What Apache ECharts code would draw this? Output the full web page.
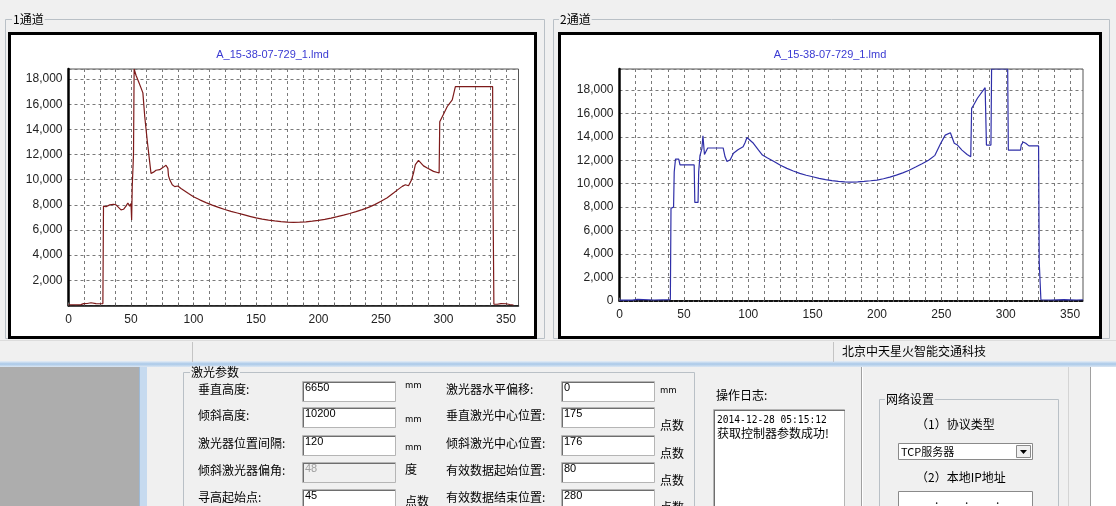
<!DOCTYPE html>
<html><head><meta charset="utf-8">
<script src="https://cdn.jsdelivr.net/npm/echarts@6/dist/echarts.min.js"></script>
<style>html,body{margin:0;padding:0;background:#f0f0f0;overflow:hidden}#c{width:1116px;height:506px}</style>
</head><body><div id="c"></div>
<script>
// ---------- data ----------
const chartTitle = 'A_15-38-07-729_1.lmd';
const panelTitles = ['1通道', '2通道'];
const ch1X = [0,5,10,12,15,18,19,22,25,27.5,28,30,33,36,38,40,42,44,46,47.5,49,50,50.5,51,52,52.5,54,56,58,59.5,61,63,64.5,66,68,70,73,76,78,79.5,80,81,83,85,87.5,90,93,96,100,105,110,115,120,125,130,135,140,145,150,155,160,165,170,175,180,185,190,195,200,205,210,215,220,225,230,235,240,245,250,255,260,264,267,269.5,272,274.5,276,277.5,280,281.5,284,287,292,296.5,297,300,303,307,309.5,339.3,339.6,340.3,343,346,350,353,356];
const ch1Y = [60,60,70,150,160,220,160,150,140,150,7900,7850,8000,8050,8000,7800,7600,7650,7900,8150,7900,8100,6800,9500,12000,18800,18300,17800,17300,16900,15000,13100,11800,10500,10600,10750,10800,11000,11150,10900,10300,10000,9600,9450,9500,9300,9100,8900,8650,8400,8180,7980,7800,7630,7480,7350,7220,7090,6960,6860,6780,6720,6670,6630,6610,6620,6650,6700,6770,6850,6950,7060,7180,7310,7460,7620,7800,8020,8280,8560,8940,9250,9470,9600,9520,10000,10530,11200,11540,11460,11100,10930,10660,10530,14600,15200,15820,16350,17400,17400,8800,100,100,150,140,80,40];
const ch2X = [0,10,14,15,27,28,39.5,40,42,42.5,43.5,46,47,58,58.5,61,61.5,62.5,64,64.8,66,68.5,80.5,82,83.5,86,88.5,92,96,97.5,99,104,108,111,115,120,125,130,135,140,145,150,155,160,165,170,175,180,185,190,195,200,205,210,215,220,225,230,235,240,245,249.5,253,257,260,262.5,266,270,272.8,273.5,275,278,284,285,288.5,289,301.5,302,311.5,312,313.5,315.5,318,325.5,326,327.3,335,345,355,360];
const ch2Y = [50,50,120,50,60,110,100,7900,8000,11000,12100,12100,11600,11600,8400,8400,11000,12400,13000,14100,12500,13050,13050,12300,11900,12050,12600,12900,13150,13500,13950,13450,12870,12450,12200,11900,11580,11310,11080,10880,10720,10590,10460,10350,10260,10200,10160,10140,10160,10200,10250,10310,10420,10560,10730,10920,11150,11420,11700,12000,12420,13450,14150,14350,13450,13300,12870,12500,12300,16430,16700,17300,18200,13300,13300,19800,19800,12870,12870,13300,13560,13450,13230,13230,3300,80,60,90,60,80];
const xMinorTicks = [0,12.5,25,37.5,50,62.5,75,87.5,100,112.5,125,137.5,150,162.5,175,187.5,200,212.5,225,237.5,250,262.5,275,287.5,300,312.5,325,337.5,350];
const statusText = '北京中天星火智能交通科技';
const leftLabels = ['垂直高度:', '倾斜高度:', '激光器位置间隔:', '倾斜激光器偏角:', '寻高起始点:'];
const leftValues = ['6650', '10200', '120', '48', '45'];
const leftUnits = ['mm', 'mm', 'mm', '度', '点数'];
const rightLabels = ['激光器水平偏移:', '垂直激光中心位置:', '倾斜激光中心位置:', '有效数据起始位置:', '有效数据结束位置:'];
const rightValues = ['0', '175', '176', '80', '280'];
const rightUnits = ['mm', '点数', '点数', '点数', '点数'];
const logLines = ['2014-12-28 05:15:12', '获取控制器参数成功!'];

// ---------- helpers ----------
const CJK = '"Noto Sans CJK SC", sans-serif';
const SANS = '"Liberation Sans", Arial, sans-serif';
const G = [];
function rect(x, y, w, h, fill, stroke, lw, z) {
  G.push({type: 'rect', z: z, silent: true, shape: {x, y, width: w, height: h},
    style: {fill: fill || 'none', stroke: stroke || null, lineWidth: lw || 1}});
}
function line(x1, y1, x2, y2, color, lw, z) {
  G.push({type: 'line', z: z, silent: true, shape: {x1, y1, x2, y2}, style: {stroke: color, lineWidth: lw || 1}});
}
function text(x, y, s, opt) {
  opt = opt || {};
  G.push({type: 'text', z: 5, silent: true, x, y,
    style: {text: s, fill: opt.color || '#000', font: (opt.size || 12) + 'px ' + (opt.family || CJK),
      textAlign: opt.align || 'left', textVerticalAlign: 'middle', backgroundColor: opt.bg || null, padding: opt.pad || 0}});
}
function inputBox(x, y, w, h, val, disabled) {
  rect(x + 0.5, y + 0.5, w, h, disabled ? '#f0f0f0' : '#ffffff', '#b5b5b5', 1, -3);
  line(x + 1, y + 1.5, x + w, y + 1.5, '#6e6e6e', 1, -2);
  line(x + 1.5, y + 1, x + 1.5, y + h, '#6e6e6e', 1, -2);
  text(x + 3, y + 7, val, {size: 11, family: SANS, color: disabled ? '#a0a0a0' : '#000'});
}
function groupBox(x, y, w, h, label, lx) {
  rect(x + 0.5, y + 0.5, w, h, null, '#b9c0c6', 1, -4);
  text(lx, y + 0.5, label, {size: 12, bg: '#f0f0f0', pad: [0, 1]});
}

// backgrounds (lowest)
rect(0, 340, 1116, 22, '#f0f0f0', null, 0, -9);
rect(0, 367, 139, 139, '#adadad', null, 0, -9);
rect(139, 367, 8, 139, '#c6daef', null, 0, -9);
rect(147, 367, 943, 139, '#f0f0f0', null, 0, -9);
rect(1090, 367, 26, 139, '#ffffff', null, 0, -9);
G.push({type: 'rect', z: -8, silent: true, shape: {x: 0, y: 361, width: 1116, height: 6},
  style: {fill: new echarts.graphic.LinearGradient(0, 0, 0, 1, [{offset: 0, color: '#e6eef7'}, {offset: 0.5, color: '#a9c8e8'}, {offset: 1, color: '#dbe7f3'}])}});

// top panels
groupBox(5, 19, 539, 319, panelTitles[0], 12);
groupBox(553, 19, 556, 319, panelTitles[1], 559);
// chart frames
rect(9.5, 33.5, 526, 304, '#ffffff', '#000', 3, -3);
rect(559.5, 33.5, 541, 304, '#ffffff', '#000', 3, -3);
text(272.5, 55, chartTitle, {size: 11, family: SANS, color: '#3a3ad2', align: 'center'});
text(830, 55, chartTitle, {size: 11, family: SANS, color: '#3a3ad2', align: 'center'});
// status bar
line(0, 340.5, 1116, 340.5, '#dcdcdc', 1, -2);
line(192.5, 342, 192.5, 362, '#c4c4c4', 1, -2);
line(833.5, 342, 833.5, 362, '#c4c4c4', 1, -2);
text(842, 351, statusText, {size: 12});
// bottom panel separators
line(139.5, 367, 139.5, 506, '#9db9d6', 1, -2);
line(1090.5, 367, 1090.5, 506, '#a0a0a0', 1, -2);
line(1068.5, 367, 1068.5, 506, '#d4d4d4', 1, -2);
line(861.5, 367, 861.5, 506, '#a0a0a0', 1, -2);
line(862.5, 367, 862.5, 506, '#ffffff', 1, -2);
// laser params group
groupBox(183, 372, 511, 150, '激光参数', 190);
const boxTop = [381, 407, 435, 462, 489];
for (let i = 0; i < 5; i++) {
  const cy = boxTop[i] + 10;
  text(198, cy - 2, leftLabels[i], {size: 12});
  inputBox(302, boxTop[i], 93, 20, leftValues[i], i === 3);
  const uy = i === 0 ? cy - 6 : (i === 3 ? cy - 3 : cy + 2);
  text(405, uy, leftUnits[i], {size: leftUnits[i] === 'mm' ? 9 : 12});
  text(446, cy - 2, rightLabels[i], {size: 12});
  inputBox(561, boxTop[i], 93, 20, rightValues[i], false);
  const ry = i === 0 ? cy - 1 : cy + 8;
  text(660, ry, rightUnits[i], {size: rightUnits[i] === 'mm' ? 9 : 12});
}
// log
text(716, 395, '操作日志:', {size: 12});
rect(713.5, 409.5, 131, 100, '#ffffff', '#b5b5b5', 1, -3);
line(714, 410.5, 845, 410.5, '#6e6e6e', 1, -2);
line(714.5, 410, 714.5, 506, '#6e6e6e', 1, -2);
text(717, 420, logLines[0], {size: 9.6, family: '"DejaVu Sans Mono", monospace'});
text(717, 433, logLines[1], {size: 12});
// network group
groupBox(879, 399, 179, 130, '网络设置', 885);
text(916, 424, '（1）协议类型', {size: 12});
rect(898.5, 443.5, 134, 16, '#ffffff', '#8a8a8a', 1, -3);
text(901, 451.5, 'TCP服务器', {size: 11});
rect(1016.5, 445.5, 14, 12, '#f0f0f0', '#8a8a8a', 1, -2);
G.push({type: 'polygon', z: 3, silent: true, shape: {points: [[1020, 450], [1027, 450], [1023.5, 454]]}, style: {fill: '#000'}});
text(916, 477, '（2）本地IP地址', {size: 12});
rect(898.5, 491.5, 134, 20, '#ffffff', '#8a8a8a', 1, -3);
text(935, 499, '.', {size: 12}); text(965, 499, '.', {size: 12}); text(996, 499, '.', {size: 12});

// ---------- chart ----------
const fmt = v => v.toLocaleString('en-US');
function xAxis(gi, dashed) {
  return {gridIndex: gi, type: 'value', min: 0, max: 360, interval: 50,
    axisLine: {show: true, onZero: false, lineStyle: {color: '#111', width: dashed ? 2 : 1.5, type: dashed ? [3, 2] : 'solid'}},
    axisTick: {show: true, inside: true, length: 3, lineStyle: {color: '#666'}, customValues: xMinorTicks},
    axisLabel: {color: '#222', fontSize: 12, fontFamily: SANS, margin: 8, showMaxLabel: false, formatter: v => v > 355 ? '' : String(v)},
    splitLine: {show: true, lineStyle: {color: '#7a7a7a', width: 1, type: [3, 3]}}};
}
function yAxis(gi, max, hideZero) {
  return {gridIndex: gi, type: 'value', min: 0, max: max, interval: 2000,
    axisLine: {show: true, onZero: false, lineStyle: {color: '#000', width: 2.5}},
    axisTick: {show: false},
    axisLabel: {color: '#222', fontSize: 12, fontFamily: SANS, margin: 6, showMaxLabel: false,
      formatter: v => ((hideZero && v === 0) || v > 18000) ? '' : fmt(v)},
    splitLine: {show: true, lineStyle: {color: '#7a7a7a', width: 1, type: [3, 3]}}};
}
const chart = echarts.init(document.getElementById('c'), null, {renderer: 'canvas'});
chart.setOption({
  animation: false,
  backgroundColor: '#f0f0f0',
  grid: [
    {left: 68.5, top: 69, width: 450, height: 236.5, show: true, borderColor: '#555', borderWidth: 1, backgroundColor: 'transparent'},
    {left: 619.5, top: 69, width: 463.5, height: 231.7, show: true, borderColor: '#555', borderWidth: 1, backgroundColor: 'transparent'}
  ],
  xAxis: [xAxis(0, false), xAxis(1, true)],
  yAxis: [yAxis(0, 18800, true), yAxis(1, 19800, false)],
  series: [
    {type: 'line', xAxisIndex: 0, yAxisIndex: 0, symbol: 'none', data: ch1X.map((x, i) => [x, ch1Y[i]]),
      lineStyle: {color: '#7d1a1a', width: 1.2}},
    {type: 'line', xAxisIndex: 1, yAxisIndex: 1, symbol: 'none', data: ch2X.map((x, i) => [x, ch2Y[i]]),
      lineStyle: {color: '#2f2fa8', width: 1.2}}
  ],
  graphic: {elements: G}
});
</script></body></html>
